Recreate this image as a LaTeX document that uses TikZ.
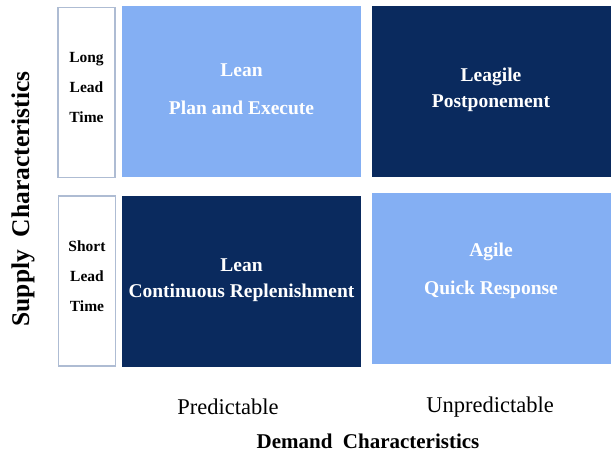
\documentclass[tikz,border=0pt]{standalone}
\usepackage{fontspec}
\setmainfont{Liberation Serif}
\usepackage{xcolor}
\usepackage{tikz}
\usetikzlibrary{positioning}

\definecolor{lightcell}{HTML}{84AFF3}
\definecolor{darkcell}{HTML}{0A2A5E}
\definecolor{leadedge}{HTML}{AEBCD3}

\begin{document}
\begin{tikzpicture}[x=1pt, y=-1pt,
    cell/.style={minimum width=239pt, minimum height=171pt, inner sep=0pt},
    celltext/.style={text=white, align=center, font=\fontsize{19.5}{26}\selectfont\bfseries},
    leadbox/.style={draw=leadedge, line width=1.3pt, fill=white, minimum width=57pt, minimum height=170pt, inner sep=0pt},
    leadtext/.style={align=center, font=\fontsize{15.5}{30}\selectfont\bfseries}]
\useasboundingbox[fill=white] (0,0) rectangle (615,457);

% lead time boxes on the left
\node[leadbox] (longbox) at (86.5,92.5) {};
\node[leadbox] (shortbox) at (87,281) {};
\node[leadtext] (longtext) at (86.5,87) {Long\\Lead\\Time};
\node[leadtext] (shorttext) at (87,276) {Short\\Lead\\Time};

% the four strategy cells
\node[cell, fill=lightcell] (leanplan) at (241.5,91.5) {};
\node[cell, fill=darkcell] (leagile) at (491,91.5) {};
\node[cell, fill=darkcell] (leancont) at (241.5,281) {};
\node[cell, fill=lightcell] (agile) at (491,278) {};

\node[celltext] (leanplantext) at (241.5,89) {Lean\\[12pt]Plan and Execute};
\node[celltext] (leagiletext) at (491,90) {Leagile\\Postponement};
\node[celltext] (leanconttext) at (241.5,280) {Lean\\Continuous Replenishment};
\node[celltext] (agiletext) at (491,271) {Agile\\[12pt]Quick Response};

% axis labels
\node[font=\fontsize{22.5}{27}\selectfont] (predictable) at (228,407) {Predictable};
\node[font=\fontsize{22.5}{27}\selectfont] (unpredictable) at (490,407) {Unpredictable};
\node[font=\fontsize{21}{25}\selectfont\bfseries] (demand) at (368,441) {Demand\ \ Characteristics};
\node[font=\fontsize{25.5}{30}\selectfont\bfseries, rotate=90] (supply) at (23,199) {Supply\ \ Characteristics};

\end{tikzpicture}
\end{document}
